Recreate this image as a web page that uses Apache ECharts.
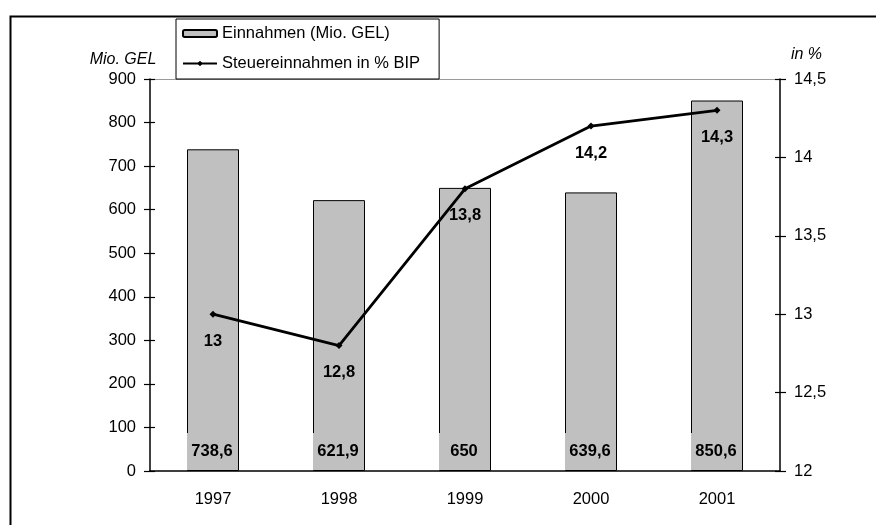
<!DOCTYPE html>
<html>
<head>
<meta charset="utf-8">
<script src="https://cdn.jsdelivr.net/npm/echarts@6/dist/echarts.min.js"></script>
<style>html,body{margin:0;padding:0;background:#fff}#c{width:876px;height:525px}</style>
</head>
<body>
<div id="c"></div>
<script>
const years = ['1997', '1998', '1999', '2000', '2001'];
const einnahmen = [738.6, 621.9, 650, 639.6, 850.6];
const steuerquote = [13, 12.8, 13.8, 14.2, 14.3];
const barName = 'Einnahmen (Mio. GEL)';
const lineName = 'Steuereinnahmen in % BIP';
const leftName = 'Mio. GEL';
const rightName = 'in %';

const FONT = 'Liberation Sans, Arial, sans-serif';
const comma = v => String(v).replace('.', ',');
const chart = echarts.init(document.getElementById('c'));

const hiddenAxisBase = {
  axisLine: { show: false }, axisLabel: { show: false }, splitLine: { show: false }
};

chart.setOption({
  animation: false,
  backgroundColor: '#fff',
  textStyle: { fontFamily: FONT, color: '#000' },
  graphic: [{
    type: 'rect', left: 8, top: 14, z: -10,
    shape: { width: 900, height: 600 },
    style: { fill: 'none', stroke: '#000', lineWidth: 2 }
  }],
  legend: {
    left: 176, top: 19, orient: 'vertical',
    data: [barName, lineName],
    itemWidth: 34, itemHeight: 7, itemGap: 13,
    padding: [6, 19, 7, 6],
    borderColor: '#000', borderWidth: 1,
    textStyle: { fontFamily: FONT, fontSize: 16.5, color: '#000' }
  },
  grid: { left: 150, right: 96, top: 79, bottom: 54 },
  xAxis: [{
    type: 'category', data: years, position: 'bottom',
    axisLine: { lineStyle: { color: '#000', width: 1.5 } },
    axisTick: { length: 6, lineStyle: { color: '#000', width: 1.2 } },
    axisLabel: { fontFamily: FONT, fontSize: 16.5, color: '#000', margin: 20 }
  }, {
    type: 'category', data: years, position: 'bottom', ...hiddenAxisBase,
    axisTick: { inside: true, length: 5, lineStyle: { color: '#000', width: 1.2 } }
  }, {
    type: 'category', data: years, position: 'top',
    axisLine: { lineStyle: { color: '#9a9a9a', width: 1 } },
    axisTick: { show: false }, axisLabel: { show: false }, splitLine: { show: false }
  }],
  yAxis: [{
    type: 'value', min: 0, max: 900, interval: 100, position: 'left',
    name: leftName, nameLocation: 'end', nameGap: 11,
    nameTextStyle: { fontFamily: FONT, fontSize: 16, fontStyle: 'italic', color: '#000', align: 'center', padding: [0, 54, 0, 0] },
    axisLine: { show: true, lineStyle: { color: '#000', width: 1.5 } },
    axisTick: { show: true, length: 6, lineStyle: { color: '#000', width: 1.2 } },
    axisLabel: { fontFamily: FONT, fontSize: 16.5, color: '#000', margin: 14 },
    splitLine: { show: false }
  }, {
    type: 'value', min: 12, max: 14.5, interval: 0.5, position: 'right',
    name: rightName, nameLocation: 'end', nameGap: 16,
    nameTextStyle: { fontFamily: FONT, fontSize: 16, fontStyle: 'italic', color: '#000', align: 'center', padding: [0, 0, 0, 53] },
    axisLine: { show: true, lineStyle: { color: '#000', width: 1.5 } },
    axisTick: { show: true, length: 6, lineStyle: { color: '#000', width: 1.2 } },
    axisLabel: { fontFamily: FONT, fontSize: 16.5, color: '#000', margin: 14, formatter: v => comma(v) },
    splitLine: { show: false }
  }, {
    type: 'value', min: 0, max: 900, interval: 100, position: 'left', ...hiddenAxisBase,
    axisTick: { show: true, inside: true, length: 5, lineStyle: { color: '#000', width: 1.2 } }
  }, {
    type: 'value', min: 12, max: 14.5, interval: 0.5, position: 'right', ...hiddenAxisBase,
    axisTick: { show: true, inside: true, length: 5, lineStyle: { color: '#000', width: 1.2 } }
  }],
  series: [{
    name: barName, type: 'bar', data: einnahmen, xAxisIndex: 0, yAxisIndex: 0,
    barWidth: 52,
    itemStyle: { color: '#c0c0c0', borderColor: '#000', borderWidth: 1 },
    label: {
      show: true, position: 'insideBottom', distance: 1,
      formatter: p => comma(p.value),
      fontFamily: FONT, fontSize: 16.5, fontWeight: 'bold', color: '#000',
      backgroundColor: '#c0c0c0', width: 50, align: 'center',
      padding: [10, 0, 10, 0], offset: [-1, 0]
    }
  }, {
    name: lineName, type: 'line', data: steuerquote, xAxisIndex: 0, yAxisIndex: 1,
    symbol: 'diamond', symbolSize: 7,
    lineStyle: { color: '#000', width: 2.8 },
    itemStyle: { color: '#000' },
    label: {
      show: true, position: 'bottom', distance: 15,
      formatter: p => comma(p.value),
      fontFamily: FONT, fontSize: 16.5, fontWeight: 'bold', color: '#000'
    },
    z: 5
  }]
});
</script>
</body>
</html>
